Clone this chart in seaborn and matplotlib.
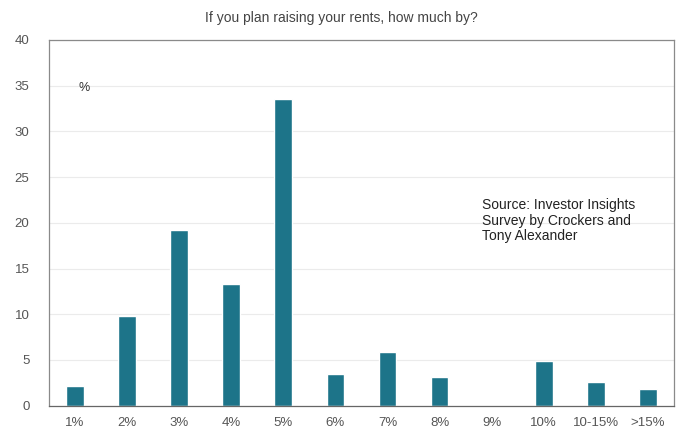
import pandas as pd
import matplotlib.pyplot as plt
import seaborn as sns

# survey answers, % of respondents
categories = ['1%', '2%', '3%', '4%', '5%', '6%', '7%', '8%', '9%', '10%', '10-15%', '>15%']
shares = [2.2, 9.8, 19.2, 13.3, 33.5, 3.5, 5.9, 3.1, 0.0, 4.9, 2.6, 1.8]

df = pd.DataFrame({'rise': categories, 'share': shares})

sns.set_style('white')
plt.rcParams['font.family'] = ['Liberation Sans', 'DejaVu Sans']

fig = plt.figure(figsize=(6.83, 4.33), dpi=100)
ax = fig.add_axes([0.0717, 0.063, 0.915, 0.845])

sns.barplot(data=df, x='rise', y='share', color='#1d7489', width=0.34,
            saturation=1, ax=ax)

ax.set_ylim(0, 40)
ax.set_yticks(range(0, 41, 5))
ax.grid(axis='y', color='#ebebeb', linewidth=0.8)
ax.set_axisbelow(True)
for side in ['left', 'bottom', 'top', 'right']:
    ax.spines[side].set_visible(True)
    ax.spines[side].set_color('#8a8a8a')
    ax.spines[side].set_linewidth(0.9)
ax.spines['bottom'].set_color('#666666')
ax.tick_params(axis='both', length=0, labelsize=9.5, colors='#555555')
ax.tick_params(axis='x', pad=8)
ax.tick_params(axis='y', pad=14)
ax.set_xlabel('')
ax.set_ylabel('')

fig.suptitle('If you plan raising your rents, how much by?', y=0.975,
             fontsize=10, color='#444444')
ax.text(0.06, 34.7, '%', fontsize=9, color='#333333', va='center')
ax.text(7.81, 22.7, 'Source: Investor Insights\nSurvey by Crockers and\nTony Alexander',
        fontsize=10, color='#222222', va='top', linespacing=1.15)

fig.savefig('out.png', dpi=100)
